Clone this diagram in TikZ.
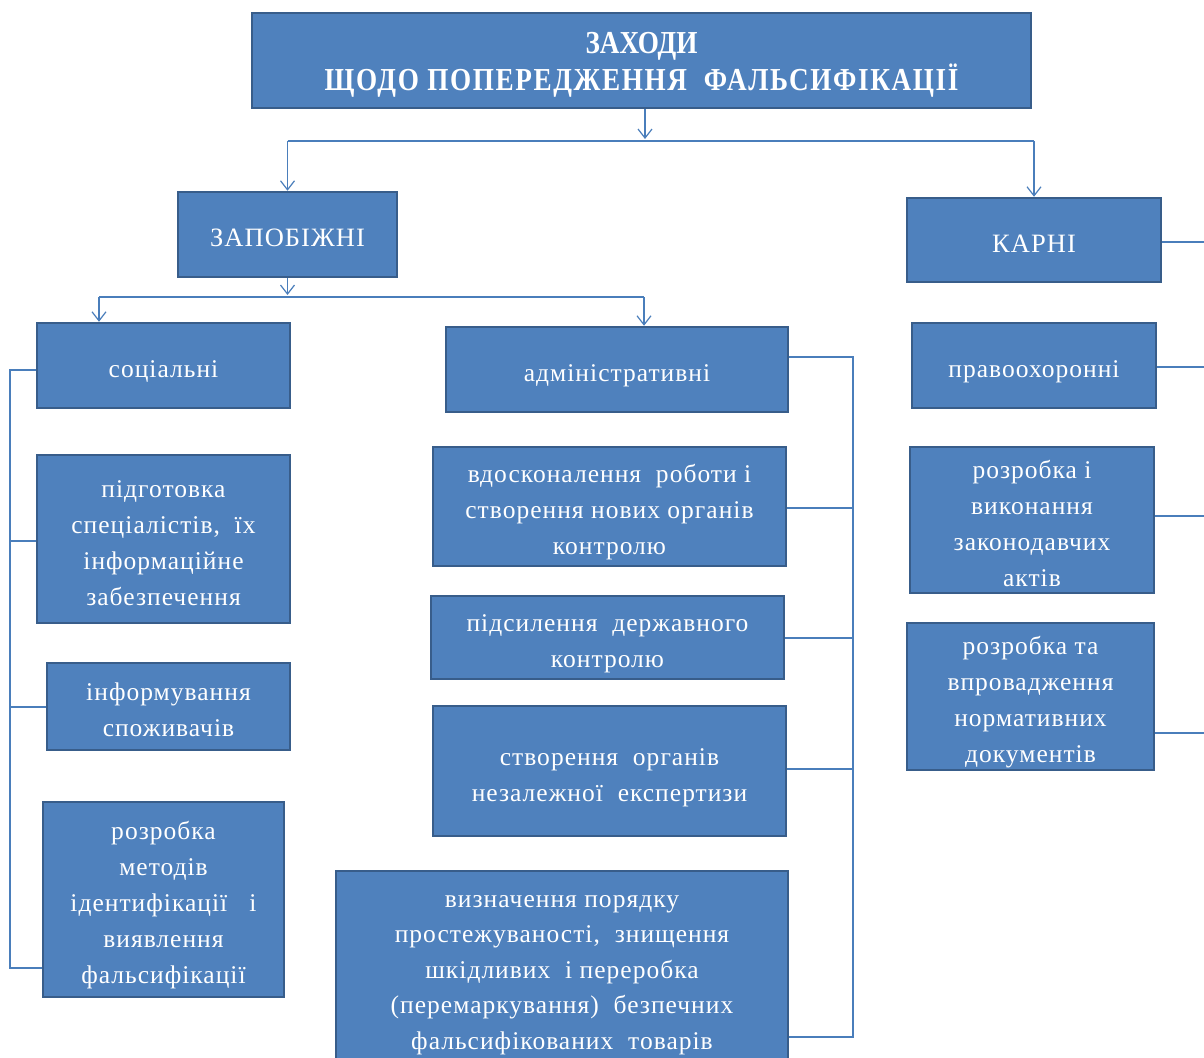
\documentclass[tikz,border=0pt]{standalone}
\usepackage{fontspec}
\setmainfont{Liberation Serif}[LetterSpace=4]
\newfontfamily\titlefont{Liberation Serif}[FakeStretch=0.85]
\newfontfamily\titlewide{Liberation Serif}[FakeStretch=0.85,LetterSpace=5]
\usetikzlibrary{arrows.meta,calc}
\definecolor{boxfill}{HTML}{4F81BD}
\definecolor{boxline}{HTML}{385D8A}
\definecolor{conn}{HTML}{4A7EBB}
\newcommand\bt[1]{\raisebox{-5pt}[\height][\depth]{\begin{tabular}{@{}c@{}}#1\end{tabular}}}
\begin{document}
\begin{tikzpicture}[x=1pt,y=-1pt,
 box/.style={draw=boxline, line width=2.5pt, fill=boxfill, text=white,
   inner sep=0pt, font=\fontsize{25.5}{36}\selectfont},
 bigbox/.style={box, font=\fontsize{26.5}{36}\selectfont},
 link/.style={draw=conn, line width=1.4pt},
 arr/.style={link, -{Straight Barb[length=9pt,width=14pt,line width=1.2pt]}}]
\useasboundingbox (0,0) rectangle (1204,1057);
\clip (0,0) rectangle (1204,1057);
\fill[white] (0,0) rectangle (1204,1057);

% nodes
\node[box, minimum width=779, minimum height=95, font=\bfseries\fontsize{32}{34}\selectfont] (top) at (641.5,60.5)
  {\raisebox{-5pt}[\height][\depth]{\begin{tabular}{@{}c@{}}\titlefont ЗАХОДИ\\\titlewide ЩОДО ПОПЕРЕДЖЕННЯ\ \ ФАЛЬСИФІКАЦІЇ\end{tabular}}};
\node[bigbox, minimum width=219, minimum height=85] (zap) at (287.5,234.5) {\bt{ЗАПОБІЖНІ}};
\node[bigbox, minimum width=254, minimum height=84] (karni) at (1034,240) {\bt{КАРНІ}};
\node[box, minimum width=253, minimum height=85] (soc) at (163.5,365.5) {\bt{соціальні}};
\node[box, minimum width=342, minimum height=85] (adm) at (617,369.5) {\bt{адміністративні}};
\node[box, minimum width=253, minimum height=168] (pidg) at (163.5,539)
  {\bt{підготовка\\спеціалістів,\ \ їх\\інформаційне\\забезпечення}};
\node[box, minimum width=243, minimum height=87] (inf) at (168.5,706.5)
  {\bt{інформування\\споживачів}};
\node[box, minimum width=241, minimum height=195] (rozm) at (163.5,899.5)
  {\bt{розробка\\методів\\ідентифікації\ \ \ і\\виявлення\\фальсифікації}};
\node[box, minimum width=353, minimum height=119] (vdos) at (609.5,506.5)
  {\bt{вдосконалення\ \ роботи і\\створення нових органів\\контролю}};
\node[box, minimum width=353, minimum height=83] (pids) at (607.5,637.5)
  {\bt{підсилення\ \ державного\\контролю}};
\node[box, minimum width=353, minimum height=130] (stvor) at (609.5,771)
  {\bt{створення\ \ органів\\незалежної\ \ експертизи}};
\node[box, minimum width=452, minimum height=190, font=\fontsize{25.5}{35.5}\selectfont] (vyzn) at (562,966)
  {\bt{визначення порядку\\простежуваності,\ \ знищення\\шкідливих\ \ і переробка\\(перемаркування)\ \ безпечних\\фальсифікованих\ \ товарів}};
\node[box, minimum width=244, minimum height=85] (prav) at (1034,365.5) {\bt{правоохоронні}};
\node[box, minimum width=244, minimum height=146] (rozv) at (1032,520)
  {\bt{розробка і\\виконання\\законодавчих\\актів}};
\node[box, minimum width=247, minimum height=147] (rozt) at (1030.5,696.5)
  {\bt{розробка та\\впровадження\\нормативних\\документів}};

% bus coordinates
\coordinate (h1) at (0,141);
\coordinate (h2) at (0,297);
\coordinate (ta) at (645,0);
\coordinate (sa) at (99,297);
\coordinate (aa) at (644,297);
\coordinate (lbus) at (10,0);
\coordinate (abus) at (853,0);
\coordinate (rbus) at (1215,0);

% level 1
\draw[arr] (ta |- top.south) -- ($(ta |- h1)+(0,-2)$);
\draw[link] (zap.north |- h1) -- (karni.north |- h1);
\draw[arr] (zap.north |- h1) -- (zap.north);
\draw[arr] (karni.north |- h1) -- (karni.north);

% level 2
\draw[arr] (zap.south) -- ($(zap.south |- h2)+(0,-2)$);
\draw[link] (sa) -- (aa);
\draw[arr] (sa) -- (sa |- soc.north);
\draw[arr] (aa) -- (aa |- adm.north);

% left bus
\coordinate (s1) at ($(soc.west)+(0,4.5)$);
\coordinate (s2) at ($(pidg.west)+(0,2)$);
\coordinate (s3) at ($(inf.west)+(0,0.5)$);
\coordinate (s4) at ($(rozm.west)+(0,68.5)$);
\draw[link] (s1) -- (lbus |- s1) -- (lbus |- s4) -- (s4);
\draw[link] (s2) -- (lbus |- s2);
\draw[link] (s3) -- (lbus |- s3);

% admin bus
\coordinate (a1) at ($(adm.east)+(0,-12.5)$);
\coordinate (a2) at ($(vdos.east)+(0,1.5)$);
\coordinate (a3) at ($(pids.east)+(0,0.5)$);
\coordinate (a4) at ($(stvor.east)+(0,-2)$);
\coordinate (a5) at ($(vyzn.east)+(0,71)$);
\draw[link] (a1) -- (abus |- a1) -- (abus |- a5) -- (a5);
\draw[link] (a2) -- (abus |- a2);
\draw[link] (a3) -- (abus |- a3);
\draw[link] (a4) -- (abus |- a4);

% right bus (runs past the right edge)
\coordinate (k1) at ($(karni.east)+(0,2)$);
\coordinate (k2) at ($(prav.east)+(0,1.5)$);
\coordinate (k3) at ($(rozv.east)+(0,-4)$);
\coordinate (k4) at ($(rozt.east)+(0,36.5)$);
\draw[link] (k1) -- (rbus |- k1) -- (rbus |- k4) -- (k4);
\draw[link] (k2) -- (rbus |- k2);
\draw[link] (k3) -- (rbus |- k3);
\end{tikzpicture}
\end{document}
